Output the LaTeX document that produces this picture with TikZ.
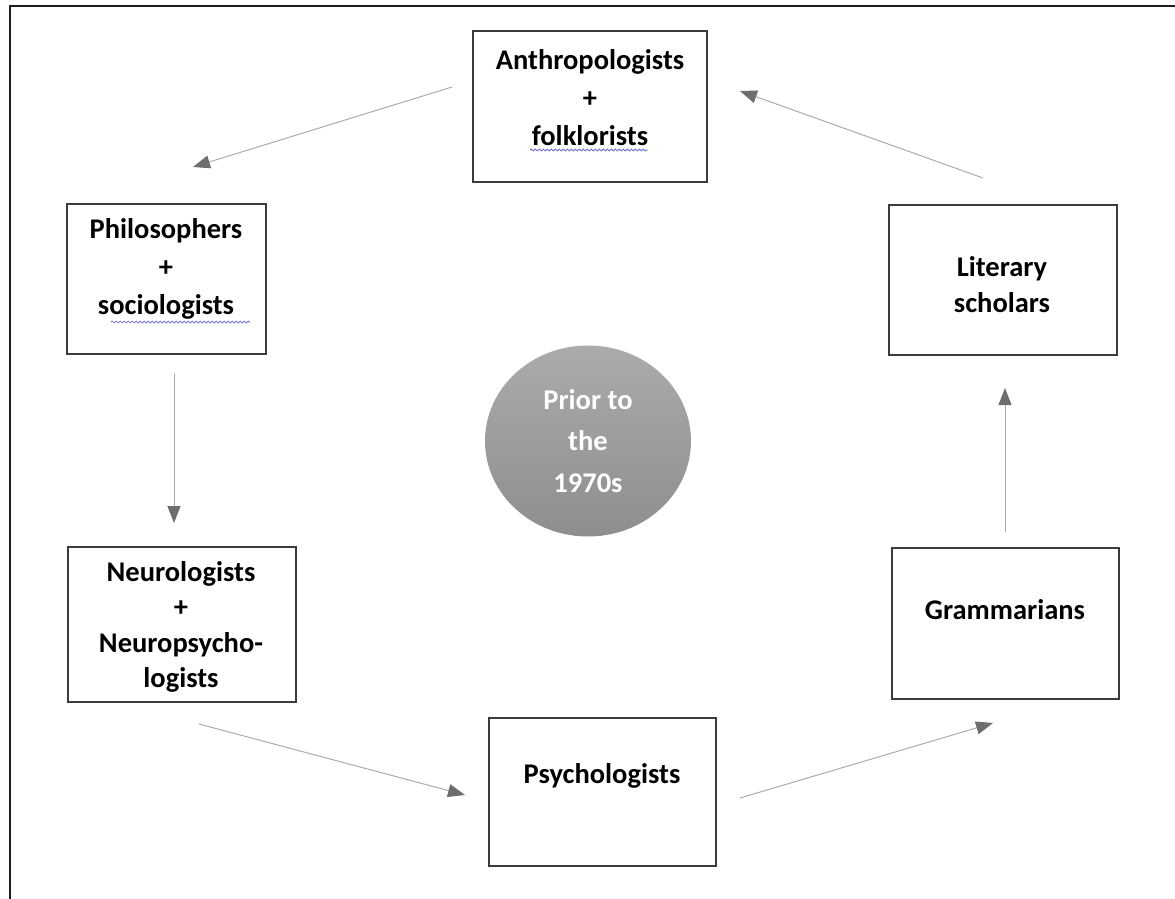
\documentclass[tikz,border=0pt]{standalone}
\usepackage{fontspec}
\setmainfont{Carlito}
\usetikzlibrary{arrows.meta,decorations.pathmorphing,shapes.geometric}

\definecolor{boxline}{HTML}{3C3C3C}
\definecolor{frameline}{HTML}{1E1E1E}
\definecolor{flowline}{HTML}{ABABAB}
\definecolor{flowhead}{HTML}{6E6E6E}
\definecolor{spellblue}{HTML}{5A5AD2}
\definecolor{disctop}{HTML}{ABABAB}
\definecolor{discbottom}{HTML}{8E8E8E}

\begin{document}
\begin{tikzpicture}[x=1pt,y=-1pt,
  box/.style={draw=boxline, line width=1.3pt, inner sep=0pt, fill=white},
  label/.style={font=\bfseries\fontsize{28.5}{38}\selectfont, align=center, inner sep=0pt, text=black},
  flow/.style={draw=flowline, line width=1pt,
    -{Triangle[length=17pt,width=13pt,fill=flowhead,color=flowhead]}},
  spell/.style={draw=spellblue, line width=0.7pt,
    decorate, decoration={snake, segment length=4pt, amplitude=1pt}}
]
\useasboundingbox (0,0) rectangle (1175,899);

% page frame (top and left edges only)
\draw[frameline, line width=2pt] (9.5,899) -- (9.5,6) -- (1175,6);

% boxes
\node[box, minimum width=234pt, minimum height=151pt] (anth) at (590,106.5) {};
\node[box, minimum width=199pt, minimum height=150pt] (phil) at (166.5,279) {};
\node[box, minimum width=228pt, minimum height=155pt] (neuro) at (182,624.5) {};
\node[box, minimum width=227pt, minimum height=148pt] (psych) at (602.5,792) {};
\node[box, minimum width=227pt, minimum height=151pt] (gram) at (1005.5,623.5) {};
\node[box, minimum width=228pt, minimum height=150pt] (lit) at (1003,280) {};

% box texts
\node[label] (anthtext) at (590,98) {Anthropologists\\+\\folklorists};
\node[label] (philtext) at (166,269) {Philosophers\\+\\sociologists};
\node[label, font=\bfseries\fontsize{28.5}{35.5}\selectfont] (neurotext) at (181,627) {Neurologists\\+\\Neuropsycho-\\logists};
\node[label] (psychtext) at (602,776) {Psychologists};
\node[label] (gramtext) at (1005,610) {Grammarians};
\node[label, font=\bfseries\fontsize{28.5}{36}\selectfont] (littext) at (1002,285) {Literary\\scholars};

% spell-check underlines
\draw[spell] (530,150) -- (648,150);
\draw[spell] (111,322) -- (250,322);

% centre disc
\node[ellipse, minimum width=206pt, minimum height=191pt, inner sep=0pt,
      top color=disctop, bottom color=discbottom,
      font=\bfseries\fontsize{28.5}{41.5}\selectfont, text=white, align=center]
      (era) at (588,441) {Prior to\\the\\1970s};

% flow arrows
\coordinate (a1s) at (452,87);   \coordinate (a1e) at (193,167);
\coordinate (a2s) at (174,373);  \coordinate (a2e) at (174,523);
\coordinate (a3s) at (199,724);  \coordinate (a3e) at (465,795);
\coordinate (a4s) at (740,798);  \coordinate (a4e) at (993,723);
\coordinate (a5s) at (1005,532); \coordinate (a5e) at (1005,388);
\coordinate (a6s) at (983,178);  \coordinate (a6e) at (740,91);

\draw[flow] (a1s) -- (a1e);
\draw[flow] (a2s) -- (a2e);
\draw[flow] (a3s) -- (a3e);
\draw[flow] (a4s) -- (a4e);
\draw[flow] (a5s) -- (a5e);
\draw[flow] (a6s) -- (a6e);
\end{tikzpicture}
\end{document}
